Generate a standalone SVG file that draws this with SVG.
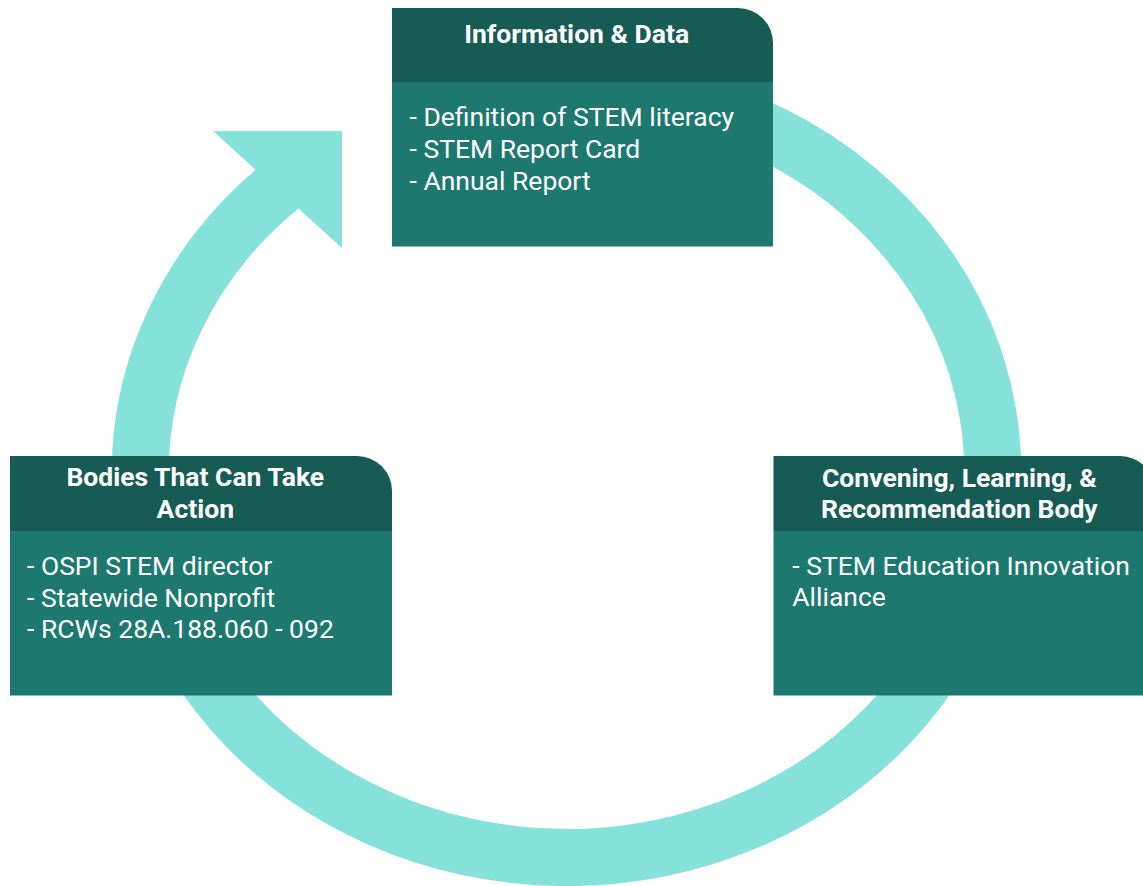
<svg xmlns="http://www.w3.org/2000/svg" width="1143" height="886" viewBox="0 0 1143 886">
<style>
.hdr{fill:#165B54}
.body{fill:#1D796F}
.ttl{font-family:Roboto,"Liberation Sans",sans-serif;font-weight:bold;font-size:26.5px;fill:#fff;text-anchor:middle}
.txt{font-family:Roboto,"Liberation Sans",sans-serif;font-size:26.5px;fill:#fff}
.ring{fill:none;stroke:#84E2DA;stroke-width:57}
</style>
<rect width="1143" height="886" fill="#fff"/>
<g id="connectors">
<path class="ring" d="M 566.5 86.5 A 426.2 385.5 0 1 1 282 185"/>
<polygon points="213,131 342,131 342,248" fill="#84E2DA"/>
</g>
<g id="node-info">
<path class="hdr" d="M392 8 H738 A35 35 0 0 1 773 43 V82 H392 Z"/>
<rect class="body" x="392" y="82" width="381" height="164.5"/>
<text class="ttl" x="576.7" y="42.5">Information &amp; Data</text>
<text class="txt" x="409.5" y="126">- Definition of STEM literacy</text>
<text class="txt" x="409.5" y="157.5">- STEM Report Card</text>
<text class="txt" x="409.5" y="189.5">- Annual Report</text>
</g>
<g id="node-bodies">
<path class="hdr" d="M10 456 H357 A35 35 0 0 1 392 491 V531 H10 Z"/>
<rect class="body" x="10" y="531" width="382" height="164.5"/>
<text class="ttl" x="195.3" y="486">Bodies That Can Take</text>
<text class="ttl" x="195.3" y="518.3">Action</text>
<text class="txt" x="27" y="575">- OSPI STEM director</text>
<text class="txt" x="27" y="606.5">- Statewide Nonprofit</text>
<text class="txt" x="27" y="638.3">- RCWs 28A.188.060 - 092</text>
</g>
<g id="node-convening">
<path class="hdr" d="M773.5 456 H1120 A35 35 0 0 1 1155 491 V531 H773.5 Z"/>
<rect class="body" x="773.5" y="531" width="381.5" height="164.5"/>
<text class="ttl" x="959.3" y="486.7">Convening, Learning, &amp;</text>
<text class="ttl" x="959.3" y="518.3">Recommendation Body</text>
<text class="txt" x="792.3" y="575">- STEM Education Innovation</text>
<text class="txt" x="792.3" y="605.7">Alliance</text>
</g>
</svg>
